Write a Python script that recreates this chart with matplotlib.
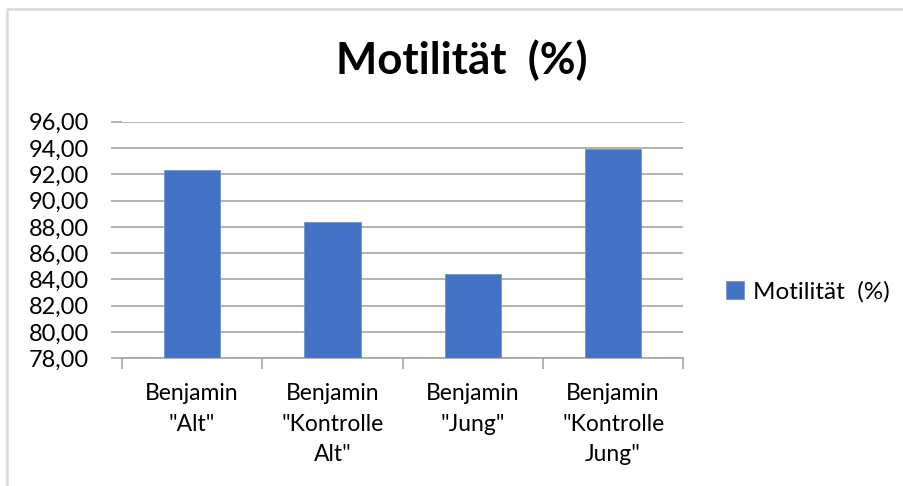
import matplotlib.pyplot as plt
from matplotlib.lines import Line2D
from matplotlib.ticker import FuncFormatter

plt.rcParams['font.family'] = ['Lato', 'DejaVu Sans']

# Daten
kategorien = ['Benjamin\n"Alt"', 'Benjamin\n"Kontrolle\nAlt"', 'Benjamin\n"Jung"', 'Benjamin\n"Kontrolle\nJung"']
motilitaet = [92.33, 88.35, 84.44, 93.90]
serie = 'Motilität  (%)'

fig = plt.figure(figsize=(9.04, 4.86), dpi=100)
ax = fig.add_axes([122/904, 1 - 358.3/486, (683.3-122)/904, (358.3-121.7)/486])

x = range(len(kategorien))
ax.bar(x, motilitaet, width=0.4, color='#4472C4', edgecolor='#6f93d6', linewidth=0.6,
       label=serie, zorder=3)

ax.set_xlim(-0.5, len(kategorien) - 0.5)
ax.set_ylim(78, 96)
ax.set_yticks(range(78, 97, 2))
ax.yaxis.set_major_formatter(FuncFormatter(lambda v, p: f'{v:.2f}'.replace('.', ',')))
ax.grid(axis='y', color='#a6a6a6', linewidth=1.2, zorder=0)

for s in ['top', 'right', 'left']:
    ax.spines[s].set_visible(False)
ax.spines['bottom'].set_color('#a6a6a6')
ax.spines['bottom'].set_linewidth(1.2)

ax.tick_params(axis='y', length=8, width=1.2, color='#a6a6a6', labelsize=17,
               labelcolor='#000000', pad=16)
ax.set_xticks(list(x))
ax.set_xticklabels(kategorien, fontsize=16.5, color='#000000', linespacing=1.55)
ax.tick_params(axis='x', which='major', length=0, pad=18)
ax.set_xticks([i - 0.5 for i in range(len(kategorien) + 1)], minor=True)
ax.tick_params(axis='x', which='minor', length=8, width=1.2, color='#a6a6a6')

fig.text(462/904, 1 - 74/486, serie, ha='center', va='baseline', fontsize=31.5,
         fontweight='bold', color='#000000')

fig.legend(loc='center left', bbox_to_anchor=(704/904, 1 - 292/486), frameon=False,
           fontsize=17.5, handlelength=0.75, handleheight=0.75, handletextpad=0.35,
           labelcolor='#000000')

# Rahmen des Diagrammbereichs
fig.add_artist(Line2D([7/904, 7/904, 1], [0, 1 - 9.5/486, 1 - 9.5/486],
                      transform=fig.transFigure, color='#d9d9d9', linewidth=1.8))

fig.savefig('out.png', dpi=100)
